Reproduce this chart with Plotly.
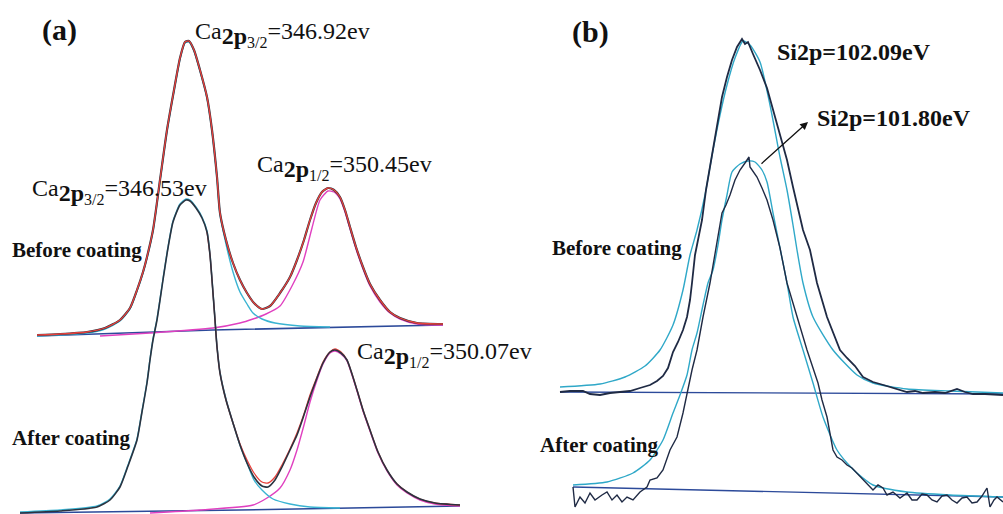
import plotly.graph_objects as go

# ---------------- Panel (a): Ca 2p, before coating ----------------
a_before_x = [37, 60, 87, 105, 120, 130, 137, 143, 147, 153, 160, 167, 174, 180, 185, 189, 194, 200, 207, 212, 217, 220, 226, 233, 240, 247, 254, 262, 270, 280, 290, 297, 304, 310, 316, 322, 328, 334, 340, 345, 350, 356, 363, 370, 380, 390, 400, 417, 443]
a_before_y = [179, 180, 182, 186, 194, 206, 224, 242, 257, 284, 334, 384, 424, 456, 472, 473, 464, 444, 417, 384, 337, 301, 274, 251, 234, 221, 211, 205, 208, 221, 237, 254, 274, 294, 311, 322, 326, 324, 317, 304, 287, 267, 247, 230, 214, 202, 196, 191, 190]

a_before_p32_x = [37, 87, 105, 120, 130, 137, 143, 147, 153, 160, 167, 174, 180, 185, 189, 194, 200, 207, 212, 217, 220, 226, 233, 240, 247, 253, 262, 275, 300, 330]
a_before_p32_y = [178, 181, 185, 193, 205, 223, 241, 256, 283, 333, 383, 423, 455, 471, 472, 463, 443, 416, 383, 336, 300, 270, 242, 222, 210, 201, 195, 191, 188, 187]

a_before_p12_x = [100, 150, 213, 240, 253, 266, 280, 292, 303, 312, 320, 328, 334, 340, 345, 350, 356, 363, 370, 380, 390, 400, 417, 443]
a_before_p12_y = [178, 181, 186, 191, 195, 200, 208, 228, 252, 286, 314, 323, 322, 315, 302, 285, 265, 245, 228, 212, 201, 195, 190, 189]

a_before_base_x = [37, 213, 443]
a_before_base_y = [178, 184, 189]

# ---------------- Panel (a): Ca 2p, after coating ----------------
a_after_x = [20, 60, 97, 110, 120, 128, 137, 142, 147, 150, 153, 157, 163, 168, 173, 180, 186, 190, 196, 202, 207, 210, 212, 215, 217, 220, 226, 233, 240, 247, 254, 262, 268, 275, 282, 290, 297, 304, 310, 317, 323, 330, 335, 341, 347, 352, 357, 363, 370, 378, 387, 397, 407, 420, 435, 460]
a_after_y = [1, 3, 7, 14, 27, 48, 74, 102, 131, 154, 174, 194, 234, 266, 292, 309, 314, 313, 306, 296, 282, 259, 234, 194, 167, 141, 114, 91, 69, 51, 37, 28, 27, 34, 47, 64, 79, 99, 117, 136, 151, 162, 164, 161, 154, 140, 124, 104, 84, 62, 44, 30, 22, 15, 11, 9]

a_after_fit_x = [207, 210, 212, 215, 217, 220, 226, 233, 240, 247, 254, 262, 268, 275, 282, 290, 297, 304, 310, 317, 323, 330, 335, 341, 347, 352, 357, 363, 370, 378, 387, 397, 407, 420, 435, 460]
a_after_fit_y = [282, 259, 234, 194, 167, 141, 114, 91, 70, 54, 41, 32, 31, 37, 49, 65, 81, 100, 119, 137, 152, 162, 165, 162, 154, 140, 124, 104, 84, 62, 44, 30, 22, 15, 11, 9]

a_after_p32_x = [20, 60, 97, 110, 120, 128, 137, 142, 147, 150, 153, 157, 163, 168, 173, 180, 186, 190, 196, 202, 207, 210, 212, 215, 217, 220, 226, 233, 240, 247, 254, 262, 273, 290, 310, 340]
a_after_p32_y = [2, 4, 8, 15, 28, 49, 75, 103, 132, 155, 175, 195, 235, 267, 293, 310, 315, 314, 307, 297, 283, 260, 235, 195, 168, 142, 115, 91, 69, 51, 34, 24, 15, 10, 7, 6]

a_after_p12_x = [150, 200, 253, 267, 280, 290, 297, 304, 310, 317, 323, 330, 335, 341, 347, 352, 357, 363, 370, 378, 387, 397, 407, 420, 435, 460]
a_after_p12_y = [1, 4, 9, 16, 26, 44, 64, 89, 112, 134, 150, 161, 163, 160, 153, 139, 123, 103, 83, 61, 43, 29, 21, 14, 10, 8]

a_after_base_x = [20, 240, 460]
a_after_base_y = [1, 4, 8]

# ---------------- Panel (b): Si 2p, before coating ----------------
b_before_x = [560, 570, 583, 590, 600, 610, 620, 630, 640, 650, 657, 663, 668, 673, 678, 683, 687, 690, 692, 695, 698, 702, 706, 710, 714, 718, 722, 727, 732, 737, 742, 745, 748, 753, 760, 767, 773, 780, 787, 793, 798, 803, 810, 817, 827, 833, 840, 847, 855, 863, 873, 880, 890, 900, 907, 915, 923, 935, 945, 957, 965, 973, 985, 1003]
b_before_y = [122, 123, 123, 120, 119, 121, 122, 123, 126, 129, 133, 138, 146, 162, 172, 184, 197, 214, 231, 259, 274, 294, 324, 347, 374, 397, 417, 437, 454, 467, 475, 470, 472, 460, 444, 426, 404, 381, 354, 327, 306, 284, 264, 231, 197, 181, 164, 156, 148, 137, 132, 130, 127, 124, 122, 123, 121, 122, 121, 125, 122, 120, 120, 119]

b_before_fit_x = [560, 600, 625, 645, 660, 673, 683, 690, 697, 705, 713, 720, 727, 735, 743, 750, 760, 770, 780, 787, 793, 797, 803, 813, 833, 857, 873, 907, 950, 1003]
b_before_fit_y = [127, 130, 137, 148, 164, 189, 224, 259, 284, 319, 364, 399, 429, 456, 473, 469, 452, 409, 357, 324, 289, 264, 231, 197, 164, 139, 131, 125, 123, 121]

b_before_base_x = [560, 780, 1003]
b_before_base_y = [122, 121, 120]

# ---------------- Panel (b): Si 2p, after coating ----------------
b_after_x = [573, 575, 580, 585, 590, 595, 602, 607, 612, 617, 622, 627, 633, 640, 647, 650, 657, 663, 670, 677, 683, 687, 692, 697, 703, 710, 715, 718, 722, 726, 730, 735, 740, 745, 749, 750, 757, 762, 767, 773, 780, 787, 797, 807, 812, 818, 822, 827, 833, 837, 842, 847, 852, 857, 862, 867, 873, 878, 883, 887, 893, 900, 907, 912, 917, 922, 927, 932, 937, 942, 947, 952, 957, 962, 967, 972, 977, 982, 987, 990, 994, 997, 1003]
b_after_y = [27, 7, 17, 11, 21, 14, 19, 22, 14, 19, 12, 17, 14, 22, 27, 34, 36, 44, 64, 77, 101, 121, 144, 164, 197, 231, 261, 279, 301, 309, 319, 334, 344, 351, 357, 347, 337, 326, 314, 294, 266, 231, 197, 164, 149, 131, 114, 97, 64, 57, 54, 49, 46, 41, 36, 31, 24, 29, 26, 19, 22, 16, 21, 14, 14, 20, 19, 14, 12, 18, 19, 14, 11, 16, 17, 11, 12, 18, 26, 7, 14, 17, 12]

b_after_fit_x = [573, 607, 633, 650, 663, 673, 680, 687, 692, 697, 703, 708, 713, 718, 722, 727, 732, 740, 748, 755, 762, 767, 773, 780, 787, 793, 803, 813, 823, 837, 847, 857, 873, 907, 950, 1003]
b_after_fit_y = [29, 32, 41, 54, 74, 101, 119, 139, 164, 181, 209, 231, 244, 269, 294, 319, 342, 350, 353, 352, 344, 332, 301, 266, 231, 197, 164, 131, 97, 64, 51, 41, 29, 22, 19, 17]

b_after_base_x = [573, 790, 1003]
b_after_base_y = [27, 22, 17]

# ---------------- Styling ----------------
C_DATA = "#2b3340"
C_DATA_B = "#1f2a44"
C_RED = "#e8413c"
C_MAG = "#e040c0"
C_CYAN = "#3ab4d2"
C_CYAN_B = "#2fa8c8"
C_BASE = "#2c4a9a"

fig = go.Figure()

def add(x, y, color, width, xaxis="x", shape="spline"):
    fig.add_trace(go.Scatter(x=x, y=y, mode="lines", xaxis=xaxis, yaxis="y",
                             line=dict(color=color, width=width, shape=shape, smoothing=0.6),
                             hoverinfo="skip", showlegend=False))

# panel a, before
add(a_before_base_x, a_before_base_y, C_BASE, 1.6)
add(a_before_p12_x, a_before_p12_y, C_MAG, 1.4)
add(a_before_p32_x, a_before_p32_y, C_CYAN, 1.4)
add(a_before_x, a_before_y, C_DATA, 2.2)
add(a_before_x, a_before_y, C_RED, 1.3)
# panel a, after
add(a_after_base_x, a_after_base_y, C_BASE, 1.6)
add(a_after_p12_x, a_after_p12_y, C_MAG, 1.4)
add(a_after_p32_x, a_after_p32_y, C_CYAN, 1.4)
add(a_after_fit_x, a_after_fit_y, C_RED, 1.3)
add(a_after_x, a_after_y, C_DATA, 1.6)
# panel b
add(b_before_base_x, b_before_base_y, C_BASE, 1.4, "x2", "linear")
add(b_before_fit_x, b_before_fit_y, C_CYAN_B, 1.4, "x2")
add(b_before_x, b_before_y, C_DATA_B, 1.8, "x2", "linear")
add(b_after_base_x, b_after_base_y, C_BASE, 1.4, "x2", "linear")
add(b_after_fit_x, b_after_fit_y, C_CYAN_B, 1.4, "x2")
add(b_after_x, b_after_y, C_DATA_B, 1.4, "x2", "linear")

SERIF = "Liberation Serif, Times New Roman, serif"

def ca(sub, value):
    return ("Ca<sub><b><span style='font-size:24px'>2p</span></b>"
            "<sub><span style='font-size:16px'>" + sub + "</span></sub></sub>=" + value + "ev")

labels = [
    ("x", 40, 484, "<b>(a)</b>", 30),
    ("x", 193, 480, ca("3/2", "346.92"), 24),
    ("x", 255, 347, ca("1/2", "350.45"), 24),
    ("x", 30, 323, ca("3/2", "346.53"), 24),
    ("x", 355, 160, ca("1/2", "350.07"), 24),
    ("x", 10, 264, "<b>Before coating</b>", 21),
    ("x", 10, 76, "<b>After coating</b>", 21),
    ("x2", 570, 482, "<b>(b)</b>", 30),
    ("x2", 775, 462, "<b>Si2p=102.09eV</b>", 24),
    ("x2", 815, 396, "<b>Si2p=101.80eV</b>", 24),
    ("x2", 550, 266, "<b>Before coating</b>", 21),
    ("x", 538, 69, "<b>After coating</b>", 21),
]
annotations = []
for xr, x, y, t, fs in labels:
    annotations.append(dict(xref=xr, yref="y", x=x, y=y, text=t, showarrow=False,
                            xanchor="left", yanchor="middle",
                            font=dict(family=SERIF, size=fs, color="#111111")))
# arrow pointing to Si2p=101.80eV label
annotations.append(dict(xref="x2", yref="y", axref="x2", ayref="y", x=808, y=392, ax=760, ay=349,
                        text="", showarrow=True, arrowhead=2, arrowsize=1.2, arrowwidth=1.3,
                        arrowcolor="#111111"))

ax_common = dict(visible=False, showgrid=False, zeroline=False, fixedrange=True)
fig.update_layout(
    width=1003, height=514,
    margin=dict(l=0, r=0, t=0, b=0),
    paper_bgcolor="white", plot_bgcolor="white",
    xaxis=dict(domain=[0, 540 / 1003], range=[0, 540], anchor="y", **ax_common),
    xaxis2=dict(domain=[540 / 1003, 1], range=[540, 1003], anchor="y", **ax_common),
    yaxis=dict(domain=[0, 1], range=[0, 514], **ax_common),
    annotations=annotations,
    showlegend=False,
)

fig.write_html("out.html", config={"displayModeBar": False},
               post_script="document.body.style.margin='0';document.body.style.overflow='hidden';")
